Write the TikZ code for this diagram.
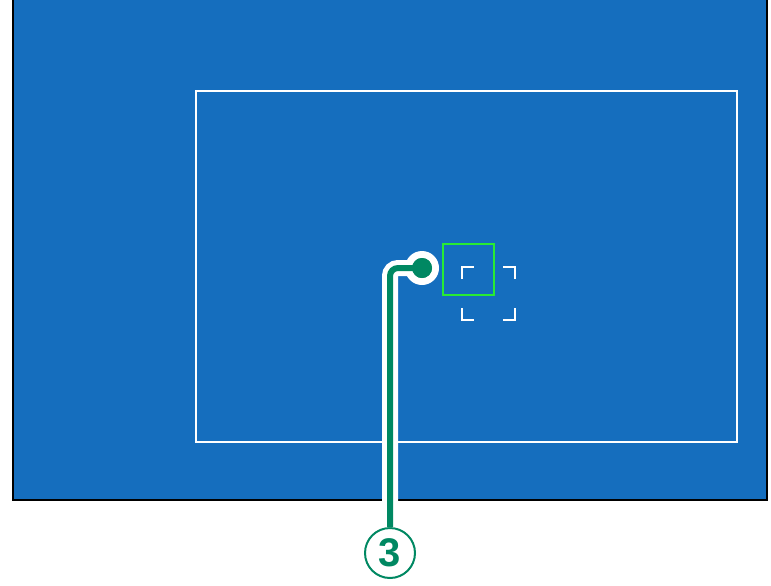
\documentclass[tikz,border=0pt]{standalone}
\usepackage{fontspec}
\setsansfont{Liberation Sans}
\definecolor{screenblue}{RGB}{21,110,190}
\definecolor{calloutgreen}{RGB}{0,136,98}
\definecolor{focusgreen}{RGB}{40,235,50}
\begin{document}
\begin{tikzpicture}[x=0.5pt, y=-0.5pt]
    \tikzstyle{screen} = [draw=black, line width=1pt, fill=screenblue]
    \tikzstyle{frame} = [draw=white, line width=1.1pt]
    \tikzstyle{bracket} = [draw=white, line width=1pt]
    \tikzstyle{focusbox} = [draw=focusgreen, line width=1.3pt]
    \tikzstyle{number} = [circle, draw=calloutgreen, line width=1pt, fill=white, minimum size=25pt, inner sep=0pt, text=calloutgreen, font=\sffamily\bfseries\fontsize{20pt}{20pt}\selectfont]
    \tikzstyle{dot} = [circle, fill=calloutgreen, minimum size=10pt, inner sep=0pt]

    \useasboundingbox (0,0) rectangle (771,585);

    % Screen and frame
    \draw [screen] (13,-4) rectangle (767,500);
    \draw [frame] (196,91) rectangle (737,442);

    % Focus area
    \draw [focusbox] (443,244) rectangle (494,295);
    \draw [bracket] (462,279) -- (462,267) -- (474,267);
    \draw [bracket] (503,267) -- (515,267) -- (515,279);
    \draw [bracket] (462,308) -- (462,320) -- (474,320);
    \draw [bracket] (503,320) -- (515,320) -- (515,308);

    % Callout
    \node [circle, fill=white, minimum size=17pt, inner sep=0pt] (ring) at (422,268) {};
    \node [dot] (point) at (422,268) {};
    \node [number] (three) at (390,553) {3};
    \draw [white, line width=8pt, rounded corners=4pt] (three.north) |- (ring.center);
    \draw [calloutgreen, line width=3pt, rounded corners=4pt] (three.north) |- (point.center);
    \node [dot] at (point) {};
\end{tikzpicture}
\end{document}
